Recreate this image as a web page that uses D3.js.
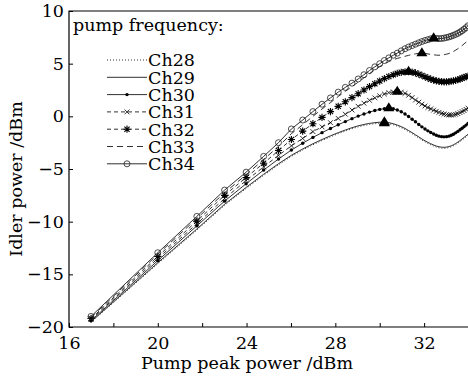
<!DOCTYPE html>
<meta charset="utf-8">
<style>
    body { margin: 0; background: #fff; }
    svg text { font-family: "DejaVu Serif", serif; fill: #000; }
    .axis path { display: none; }
    .axis line { stroke: #000; stroke-width: 1; }
</style>
<svg width="468" height="382"></svg>
<script src="https://d3js.org/d3.v7.min.js"></script>
<script>
    // pump peak power of every computed point (dBm)
    var pumpDbm = [16.99, 20.00, 21.76, 23.01, 23.98, 24.77, 25.44, 26.02, 26.53, 26.99,
        27.40, 27.78, 28.13, 28.45, 28.75, 29.03, 29.29, 29.54, 29.78, 30.00,
        30.21, 30.41, 30.61, 30.79, 30.97, 31.14, 31.30, 31.46, 31.61, 31.76,
        31.90, 32.04, 32.17, 32.30, 32.43, 32.55, 32.67, 32.79, 32.90, 33.01,
        33.12, 33.22, 33.32, 33.42, 33.52, 33.62, 33.71, 33.80, 33.89, 33.98];

    // idler power (dBm), one list per pump channel
    var ch28 = [-19.55, -14.0, -10.8, -8.45, -6.85, -5.6, -4.6, -3.8, -3.2, -2.7,
        -2.3, -1.95, -1.65, -1.4, -1.18, -1.0, -0.87, -0.77, -0.7, -0.66,
        -0.66, -0.7, -0.8, -0.93, -1.08, -1.25, -1.45, -1.65, -1.85, -2.05,
        -2.25, -2.42, -2.57, -2.7, -2.82, -2.92, -2.99, -3.03, -3.04, -3.02,
        -2.97, -2.9, -2.8, -2.68, -2.55, -2.4, -2.25, -2.1, -1.95, -1.8];
    var ch29 = [-19.5, -13.9, -10.7, -8.35, -6.75, -5.5, -4.5, -3.7, -3.1, -2.6,
        -2.2, -1.85, -1.55, -1.3, -1.08, -0.9, -0.77, -0.67, -0.6, -0.56,
        -0.56, -0.6, -0.7, -0.83, -0.98, -1.15, -1.35, -1.55, -1.75, -1.95,
        -2.15, -2.32, -2.47, -2.6, -2.72, -2.82, -2.89, -2.93, -2.94, -2.92,
        -2.87, -2.8, -2.7, -2.58, -2.45, -2.3, -2.15, -2.0, -1.85, -1.7];
    var ch30 = [-19.4, -13.7, -10.4, -8.05, -6.4, -5.1, -4.05, -3.2, -2.55, -2.0,
        -1.55, -1.15, -0.8, -0.5, -0.22, 0.02, 0.22, 0.4, 0.55, 0.66,
        0.73, 0.76, 0.72, 0.6, 0.43, 0.22, -0.02, -0.27, -0.52, -0.77,
        -1.0, -1.2, -1.38, -1.54, -1.68, -1.8, -1.88, -1.93, -1.95, -1.93,
        -1.88, -1.8, -1.7, -1.57, -1.43, -1.28, -1.13, -0.98, -0.83, -0.68];
    var ch31 = [-19.3, -13.5, -10.2, -7.8, -6.1, -4.8, -3.7, -2.8, -2.1, -1.45,
        -1.0, -0.6, -0.2, 0.2, 0.6, 0.95, 1.25, 1.52, 1.75, 1.95,
        2.12, 2.25, 2.32, 2.34, 2.3, 2.18, 2.0, 1.78, 1.55, 1.34,
        1.15, 0.98, 0.84, 0.71, 0.59, 0.48, 0.38, 0.29, 0.21, 0.16,
        0.13, 0.12, 0.14, 0.19, 0.26, 0.35, 0.45, 0.55, 0.66, 0.77];
    var ch32 = [-19.2, -13.3, -9.95, -7.5, -5.8, -4.45, -3.25, -2.2, -1.4, -0.7,
        -0.1, 0.45, 0.95, 1.38, 1.78, 2.15, 2.5, 2.82, 3.1, 3.35,
        3.58, 3.78, 3.95, 4.08, 4.18, 4.23, 4.24, 4.2, 4.12, 4.0,
        3.88, 3.76, 3.64, 3.53, 3.44, 3.37, 3.32, 3.29, 3.28, 3.28,
        3.3, 3.33, 3.37, 3.42, 3.48, 3.55, 3.62, 3.69, 3.76, 3.83];
    var ch33 = [-19.1, -13.1, -9.7, -7.25, -5.55, -4.1, -2.85, -1.65, -0.8, 0.0,
        0.7, 1.3, 1.88, 2.38, 2.82, 3.25, 3.65, 4.05, 4.42, 4.72,
        4.98, 5.2, 5.38, 5.5, 5.6, 5.7, 5.79, 5.87, 5.93, 5.98,
        6.0, 5.98, 5.93, 5.88, 5.84, 5.81, 5.8, 5.81, 5.85, 5.9,
        5.97, 6.06, 6.16, 6.28, 6.42, 6.57, 6.72, 6.88, 7.04, 7.2];
    var ch34 = [-19.0, -12.95, -9.5, -7.0, -5.3, -3.8, -2.5, -1.2, -0.35, 0.45,
        1.15, 1.75, 2.3, 2.75, 3.15, 3.55, 3.95, 4.35, 4.7, 5.0,
        5.3, 5.55, 5.8, 6.0, 6.22, 6.42, 6.58, 6.72, 6.85, 6.98,
        7.1, 7.2, 7.28, 7.36, 7.42, 7.4, 7.38, 7.39, 7.43, 7.48,
        7.54, 7.61, 7.69, 7.78, 7.88, 8.0, 8.13, 8.27, 8.42, 8.6];

    var channelNames = ["Ch28", "Ch29", "Ch30", "Ch31", "Ch32", "Ch33", "Ch34"];
    var channelValues = [ch28, ch29, ch30, ch31, ch32, ch33, ch34];

    var xTicks = [16, 18, 20, 22, 24, 26, 28, 30, 32, 34];
    var xTickLabels = [16, 20, 24, 28, 32];
    var yTicks = [-20, -15, -10, -5, 0, 5, 10];

    var svg = d3.select("svg");
    var plotL = 69, plotR = 468.5, plotT = 11, plotB = 327;

    var x = d3.scaleLinear().domain([16, 34]).range([plotL, plotR]);
    var y = d3.scaleLinear().domain([-20, 10]).range([plotB, plotT]);

    // line + marker look of each channel
    var looks = {
        Ch28: { dash: "1,2", marker: null },
        Ch29: { dash: null, marker: null },
        Ch30: { dash: null, marker: "dot" },
        Ch31: { dash: "4,3", marker: "cross" },
        Ch32: { dash: "4,3", marker: "star" },
        Ch33: { dash: "6,4", marker: null },
        Ch34: { dash: null, marker: "circle" }
    };

    function markerPath(kind) {
        if (kind == "cross") {
            var r = 2.4;
            return "M" + -r + "," + -r + "L" + r + "," + r + "M" + -r + "," + r + "L" + r + "," + -r;
        }
        if (kind == "star") {
            var s = 3.6, d = 2.6;
            return "M" + -s + ",0H" + s + "M0," + -s + "V" + s +
                "M" + -d + "," + -d + "L" + d + "," + d + "M" + -d + "," + d + "L" + d + "," + -d;
        }
        return null;
    }

    function drawMarker(g, kind) {
        if (kind == "circle") {
            g.append("circle").attr("r", 3).attr("fill", "none")
                .attr("stroke", "#222").attr("stroke-width", 0.8);
        } else if (kind == "dot") {
            g.append("circle").attr("r", 1.7).attr("fill", "#000");
        } else if (kind) {
            g.append("path").attr("d", markerPath(kind)).attr("stroke", "#000")
                .attr("stroke-width", kind == "star" ? 1.1 : 0.8).attr("fill", "none");
        }
    }

    svg.append("clipPath").attr("id", "plot")
        .append("rect").attr("x", plotL).attr("y", plotT)
        .attr("width", plotR - plotL + 2).attr("height", plotB - plotT);

    // axes with inward ticks
    svg.append("g").attr("class", "axis")
        .attr("transform", "translate(0," + plotB + ")")
        .call(d3.axisBottom(x).tickValues(xTicks).tickSize(-4).tickPadding(10)
            .tickFormat(function(d) { return xTickLabels.indexOf(d) >= 0 ? d : ""; }))
        .selectAll("text").attr("font-size", 17.5).attr("font-family", "DejaVu Serif");

    svg.append("g").attr("class", "axis")
        .attr("transform", "translate(" + plotL + ",0)")
        .call(d3.axisLeft(y).tickValues(yTicks).tickSize(-4).tickPadding(5)
            .tickFormat(function(d) { return d < 0 ? "\u2212" + Math.abs(d) : d; }))
        .selectAll("text").attr("font-size", 17.5).attr("font-family", "DejaVu Serif");

    // frame
    svg.append("path")
        .attr("d", "M" + (plotR + 1) + "," + plotT + "H" + plotL + "V" + plotB + "H" + (plotR + 1))
        .attr("fill", "none").attr("stroke", "#000").attr("stroke-width", 1.2);

    var plot = svg.append("g").attr("clip-path", "url(#plot)");

    var line = d3.line()
        .x(function(d) { return x(d[0]); })
        .y(function(d) { return y(d[1]); });

    channelNames.forEach(function(name, k) {
        var pts = pumpDbm.map(function(p, i) { return [p, channelValues[k][i]]; });
        var look = looks[name];
        plot.append("path").datum(pts)
            .attr("d", line)
            .attr("fill", "none")
            .attr("stroke", "#1a1a1a")
            .attr("stroke-width", 0.9)
            .attr("stroke-dasharray", look.dash);
        if (look.marker) {
            plot.append("g").selectAll("g").data(pts).enter().append("g")
                .attr("transform", function(d) { return "translate(" + x(d[0]) + "," + y(d[1]) + ")"; })
                .each(function() { drawMarker(d3.select(this), look.marker); });
        }
    });

    // triangle on the first local maximum of each curve
    channelNames.forEach(function(name, k) {
        var v = channelValues[k];
        var i = 1;
        while (i < v.length - 1 && !(v[i] >= v[i - 1] && v[i] > v[i + 1])) i++;
        plot.append("path")
            .attr("d", "M0,-6L5.5,3L-5.5,3Z")
            .attr("transform", "translate(" + x(pumpDbm[i]) + "," + y(v[i]) + ")")
            .attr("fill", "#000");
    });

    // axis titles
    svg.append("text")
        .attr("x", 247).attr("y", 369)
        .attr("text-anchor", "middle").attr("font-size", 17.5)
        .text("Pump peak power /dBm");

    svg.append("text")
        .attr("transform", "translate(22,179) rotate(-90)")
        .attr("text-anchor", "middle").attr("font-size", 17.5)
        .text("Idler power /dBm");

    // legend
    var legend = svg.append("g");
    legend.append("text").attr("x", 73).attr("y", 31).attr("font-size", 17.5)
        .text("pump frequency:");

    channelNames.forEach(function(name, k) {
        var ly = 60 + k * 17.3;
        var look = looks[name];
        legend.append("line")
            .attr("x1", 107).attr("x2", 147).attr("y1", ly).attr("y2", ly)
            .attr("stroke", "#1a1a1a").attr("stroke-width", 0.9)
            .attr("stroke-dasharray", look.dash);
        if (look.marker) {
            var g = legend.append("g").attr("transform", "translate(127," + ly + ")");
            drawMarker(g, look.marker);
        }
        legend.append("text").attr("x", 148).attr("y", ly).attr("dy", "0.36em")
            .attr("font-size", 17.5).text(name);
    });
</script>
